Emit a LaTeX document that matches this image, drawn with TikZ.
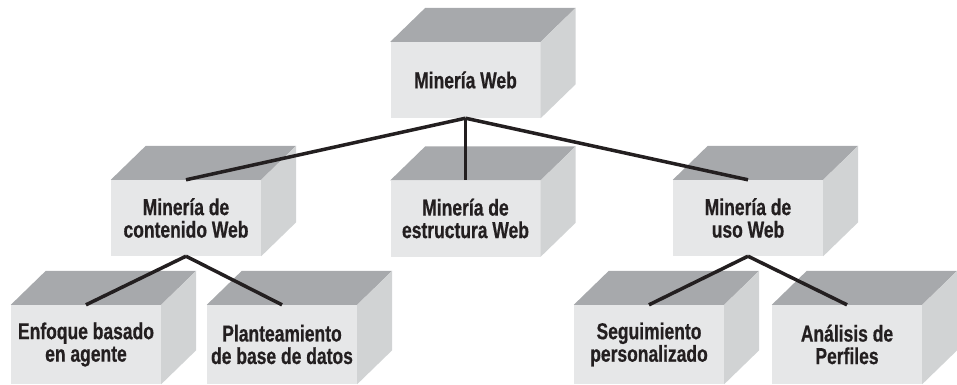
\documentclass[tikz,border=0pt]{standalone}
\usepackage{fontspec}
\newfontfamily\cajafont{Liberation Sans}[FakeStretch=0.76,FakeBold=0.6]
\usetikzlibrary{positioning}

\begin{document}
\begin{tikzpicture}[x=1pt,y=1pt,
	caja/.style={rectangle,fill=frente,minimum width=150pt,minimum height=76pt,
		inner sep=0pt,align=center,text=tinta,
		font=\cajafont\bfseries\fontsize{23}{22.5}\selectfont},
	baja/.style={caja,minimum height=79pt},
	linea/.style={draw=tinta,line width=3.5pt}]
	
	\definecolor{frente}{RGB}{230,231,232}
	\definecolor{arriba}{RGB}{167,169,172}
	\definecolor{lado}{RGB}{209,211,212}
	\definecolor{tinta}{RGB}{35,31,32}
	
	\useasboundingbox (0,0) rectangle (957,384);
	
	\node[caja] (mw) at (465.5,304) {Minería Web};
	\node[caja] (mc) at (186,166) {Minería de\\contenido Web};
	\node[caja] (me) at (465.5,165.5) {Minería de\\estructura Web};
	\node[caja] (mu) at (748,166) {Minería de\\uso Web};
	\node[baja] (ea) at (86,39.5) {Enfoque basado\\en agente};
	\node[baja] (pb) at (282,39.5) {Planteamiento\\de base de datos};
	\node[baja] (sp) at (649,39.5) {Seguimiento\\personalizado};
	\node[baja] (ap) at (847,39.5) {Análisis de\\Perfiles};
	
	% caras de arriba y de lado
	\foreach \n in {mw,mc,me,mu,ea,pb,sp,ap} {
		\fill[arriba] (\n.north west) -- ([shift={(35,34)}]\n.north west)
			-- ([shift={(35,34)}]\n.north east) -- (\n.north east) -- cycle;
		\fill[lado] (\n.north east) -- ([shift={(35,34)}]\n.north east)
			-- ([shift={(35,34)}]\n.south east) -- (\n.south east) -- cycle;
	}
	
	\path[linea]
	(mw.south) edge (mc.north)
	(mw.south) edge (me.north)
	(mw.south) edge (mu.north)
	(mc.south) edge (ea.north)
	(mc.south) edge (pb.north)
	(mu.south) edge (sp.north)
	(mu.south) edge (ap.north);
\end{tikzpicture}
\end{document}
